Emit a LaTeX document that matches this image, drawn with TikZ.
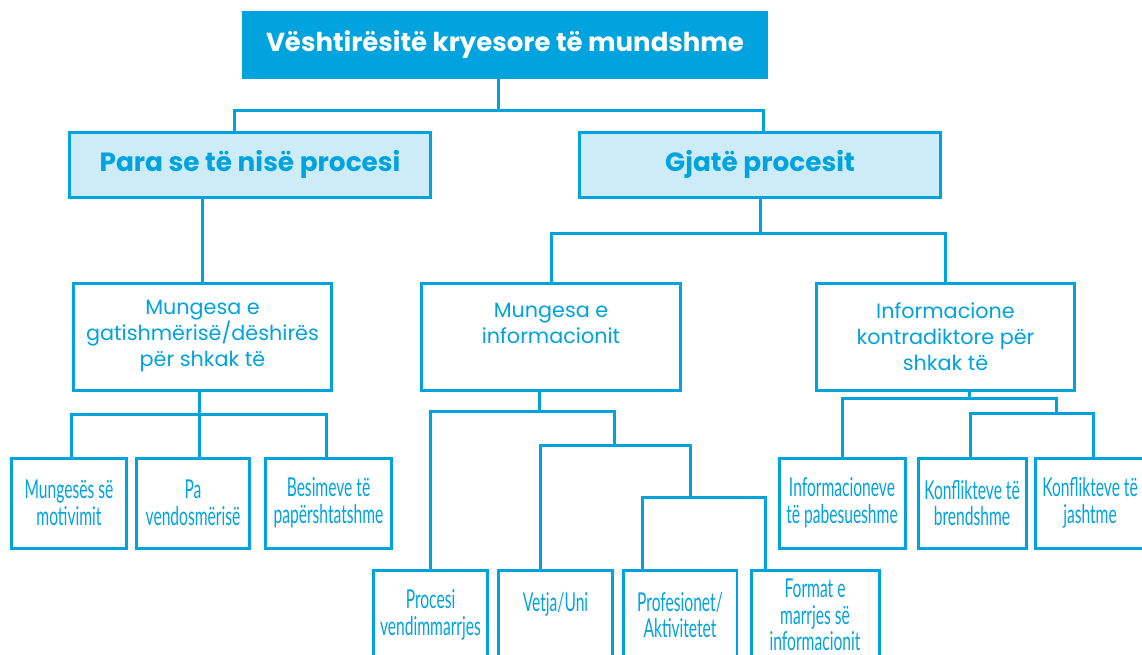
\documentclass[tikz,border=0pt]{standalone}
\usepackage{fontspec}
\setmainfont{Poppins}
\newfontfamily\narrowfont[FakeStretch=0.6]{Lato}
\usepackage{xcolor}
\definecolor{kblue}{RGB}{0,163,222}
\definecolor{klight}{RGB}{205,236,248}

\begin{document}
\begin{tikzpicture}[x=0.02cm,y=-0.02cm,
  line width=0.06cm, draw=kblue,
  headbox/.style={fill=kblue, draw=kblue, text=white, font=\bfseries\fontsize{14.8}{17}\selectfont,
    minimum width=10.48cm, minimum height=1.3cm},
  phasebox/.style={fill=klight, draw=kblue, text=kblue, font=\bfseries\fontsize{15}{17}\selectfont,
    minimum width=7.24cm, minimum height=1.3cm},
  groupbox/.style={draw=kblue, text=kblue, align=center, font=\fontsize{11.8}{14.8}\selectfont,
    minimum width=5.18cm, minimum height=2.14cm},
  leafbox/.style={draw=kblue, text=kblue, align=center, font=\narrowfont\fontsize{14.8}{15.2}\selectfont,
    minimum height=1.8cm, inner sep=1pt}]
\clip (0,0) rectangle (1142,654);
\useasboundingbox (0,0) rectangle (1142,654);

% boxes
\node[headbox] (top) at (505,44.5) {Vështirësitë kryesore të mundshme};
\node[phasebox] (para) at (250,164.5) {Para se të nisë procesi};
\node[phasebox] (gjate) at (760,164.5) {Gjatë procesit};

\node[groupbox] (mgat) at (202.5,336.5) {Mungesa e\\gatishmërisë/dëshirës\\për shkak të};
\node[groupbox] (minf) at (551,336.5) {Mungesa e\\informacionit\\\mbox{}};
\node[groupbox] (kon) at (945.5,336.5) {Informacione\\kontradiktore për\\shkak të};

\node[leafbox, minimum width=2.32cm] (s1) at (69,503) {Mungesës së\\motivimit};
\node[leafbox, minimum width=2.28cm] (s2) at (193,503) {Pa\\vendosmërisë};
\node[leafbox, minimum width=2.54cm] (s3) at (328.5,503) {Besimeve të\\papërshtatshme};

\node[leafbox, minimum width=2.52cm] (info) at (842,503) {Informacioneve\\të pabesueshme};
\node[leafbox, minimum width=2.16cm] (brend) at (972,503) {Konflikteve të\\brendshme};
\node[leafbox, minimum width=2.2cm] (jasht) at (1090,503) {Konflikteve të\\jashtme};

\node[leafbox, minimum width=2.3cm] (proc) at (430.5,615) {Procesi\\vendimmarrjes};
\node[leafbox, minimum width=2.3cm] (vetja) at (555.5,615) {Vetja/Uni\\\mbox{}};
\node[leafbox, minimum width=2.28cm] (prof) at (680,615) {Profesionet/\\Aktivitetet};
\node[leafbox, minimum width=2.56cm] (form) at (815,615) {Format e\\marrjes së\\informacionit};

% top level
\coordinate (b0) at (498,110);
\coordinate (b0l) at (234,110);
\coordinate (b0r) at (763,110);
\draw (top.south -| b0) -- (b0);
\draw (para.north -| b0l) -- (b0l) -- (b0r) -- (gjate.north -| b0r);

% before the process
\draw (mgat.north) -- (mgat.north |- para.south);
\coordinate (b2) at (199,414);
\coordinate (d1) at (71,414);
\coordinate (d3) at (326,414);
\draw (mgat.south -| b2) -- (s2.north -| b2);
\draw (s1.north -| d1) -- (d1) -- (d3) -- (s3.north -| d3);

% during the process
\coordinate (b1) at (760,233);
\draw (gjate.south -| b1) -- (b1);
\draw (minf.north) |- (b1) -| (kon.north);

\coordinate (c0) at (539,411);
\coordinate (c1) at (430,411);
\coordinate (c2) at (614,411);
\coordinate (c3) at (614,445);
\coordinate (c4) at (540,445);
\coordinate (c5) at (690,445);
\coordinate (c6) at (690,497);
\coordinate (c7) at (642,497);
\coordinate (c8) at (765,497);
\draw (minf.south -| c0) -- (c0);
\draw (proc.north -| c1) -- (c1) -- (c2) -- (c3);
\draw (vetja.north -| c4) -- (c4) -- (c5) -- (c6);
\draw (prof.north -| c7) -- (c7) -- (c8) -- (form.north -| c8);

\coordinate (k0) at (969,398);
\coordinate (k1) at (842,398);
\coordinate (k2) at (1056,398);
\coordinate (k3) at (1056,413);
\coordinate (k4) at (970,413);
\coordinate (k5) at (1093,413);
\draw (kon.south -| k0) -- (k0);
\draw (info.north -| k1) -- (k1) -- (k2) -- (k3);
\draw (brend.north -| k4) -- (k4) -- (k5) -- (jasht.north -| k5);
\end{tikzpicture}
\end{document}
